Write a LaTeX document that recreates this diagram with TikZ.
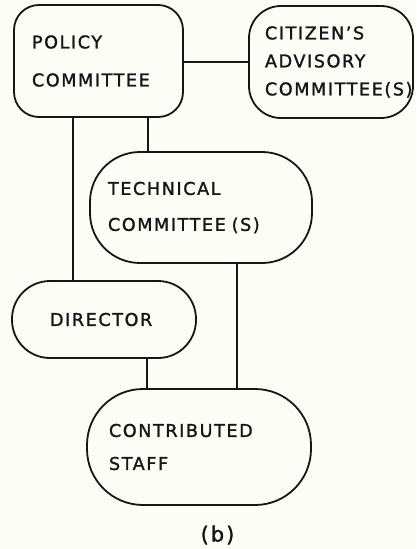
\documentclass[tikz,border=0pt]{standalone}
\usepackage{fontspec}
\usepackage{xcolor}
\usepackage{tikz}
\usetikzlibrary{calc}
\newfontfamily\lettering[LetterSpace=9, FakeBold=1.4]{DejaVu Sans}
\definecolor{paper}{HTML}{FDFDF8}
\definecolor{ink}{HTML}{161616}
\tikzset{
  unit/.style={draw=ink, line width=1.8pt, rectangle, align=left, inner ysep=0pt, text=ink},
  link/.style={draw=ink, line width=2pt},
  lead/.style={font={\lettering\fontsize{17.6}{#1}\selectfont}},
}

\begin{document}
\begin{tikzpicture}[x=1pt, y=-1pt]
  \fill[paper] (0,0) rectangle (416,549);

  \node[unit, lead=38, minimum width=169pt, minimum height=112pt, inner xsep=18pt,
        text width=133pt, rounded corners=25pt] (policy) at (98.5,61) {POLICY\\COMMITTEE};
  \node[unit, lead=28, minimum width=164pt, minimum height=112pt, inner xsep=16pt,
        text width=132pt, rounded corners=32pt] (citizen) at (331,62) {CITIZEN’S\\ADVISORY\\COMMITTEE(S)};
  \node[unit, lead=36, minimum width=222pt, minimum height=111pt, inner xsep=18pt,
        text width=186pt, rounded corners=50pt] (technical) at (201,207.5) {TECHNICAL\\COMMITTEE (S)};
  \node[unit, lead=30, minimum width=184pt, minimum height=77pt, inner xsep=38pt,
        text width=108pt, rounded corners=38pt] (director) at (104,319.5) {DIRECTOR};
  \node[unit, lead=33, minimum width=224pt, minimum height=116pt, inner xsep=22pt,
        text width=180pt, rounded corners=56pt] (contributed) at (199,447) {CONTRIBUTED\\STAFF};

  \node[text=ink, font={\lettering\fontsize{21}{24}\selectfont}] (caption) at (217.5,535) {(\kern2pt b\kern2pt)};

  % connectors
  \draw[link] ([yshift=-1pt]policy.east) -- ([yshift=-1pt]policy.east -| citizen.west);
  \draw[link] ([xshift=60pt]policy.south west) -- ([xshift=60pt]policy.south west |- director.north);
  \draw[link] ([xshift=-36pt]policy.south east) -- ([xshift=-36pt]policy.south east |- technical.north);
  \draw[link] ([xshift=-76pt]technical.south east) -- ([xshift=-76pt]technical.south east |- contributed.north);
  \draw[link] ([xshift=43pt]director.south) -- ([xshift=43pt]director.south |- contributed.north);
\end{tikzpicture}
\end{document}
